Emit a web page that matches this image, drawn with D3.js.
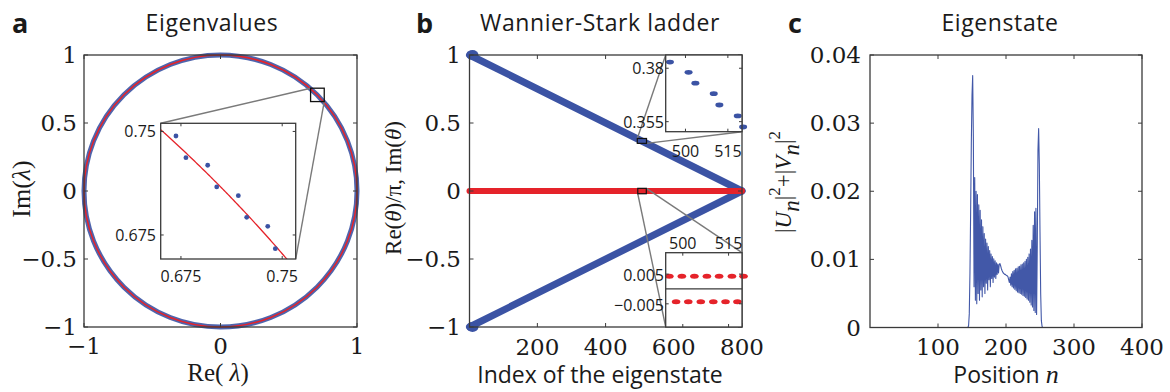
<!DOCTYPE html>
<html><head><meta charset="utf-8">
<script src="https://cdn.jsdelivr.net/npm/d3@7"></script>
<style>
body{margin:0;background:#fff}
text{fill:#1a1a1a}
</style></head><body>
<svg id="chart" width="1170" height="392" xmlns="http://www.w3.org/2000/svg"></svg>
<script>
// ---------------- DATA ----------------
const panelLetters = ["a", "b", "c"];
const panelTitles = ["Eigenvalues", "Wannier-Stark ladder", "Eigenstate"];

// panel a : eigenvalues on the unit circle
const circleRadius = [1];
const circleTicksX = [-1, 0, 1];
const circleTicksY = [-1, -0.5, 0, 0.5, 1];
const insetARe = [0.6713, 0.6787, 0.6948, 0.7015, 0.7175, 0.7237, 0.7393, 0.7449];
const insetAIm = [0.7467, 0.7310, 0.7255, 0.7098, 0.7035, 0.6878, 0.6813, 0.6651];
const insetADomainX = [0.66, 0.76];
const insetADomainY = [0.6576, 0.7559];
const insetATicks = [0.675, 0.75];

// panel b : Wannier-Stark ladder
const ladderIndex = [1, 800];
const ladderReUpper = [1, 0];
const ladderReLower = [-1, 0];
const ladderIm = [0, 0];
const ladderTicksX = [200, 400, 600, 800];
const ladderTicksY = [-1, -0.5, 0, 0.5, 1];
const insetB1Index = [494.5, 501.1, 503.5, 510.0, 512.0, 518.5, 520.4];
const insetB1Re = [0.3829, 0.3781, 0.3730, 0.3681, 0.3628, 0.3577, 0.3525];
const insetB1DomainX = [493, 520];
const insetB1DomainY = [0.3503, 0.3862];
const insetB1TicksX = [500, 515];
const insetB1TicksY = [0.355, 0.38];
const insetB2IndexUp = [495.6, 499.7, 503.8, 507.9, 511.9, 516.1, 519.9];
const insetB2ImUp = [0.0043, 0.0043, 0.0043, 0.0043, 0.0043, 0.0043, 0.0043];
const insetB2IndexDn = [497.8, 501.8, 505.9, 510.0, 514.0, 517.9];
const insetB2ImDn = [-0.0043, -0.0043, -0.0043, -0.0043, -0.0043, -0.0043];
const insetB2DomainX = [494.4, 519.4];
const insetB2DomainY = [-0.0128, 0.0122];
const insetB2TicksX = [500, 515];
const insetB2TicksY = [-0.005, 0.005];

// panel c : eigenstate profile
const stateTicksX = [100, 200, 300, 400];
const stateTicksY = [0, 0.01, 0.02, 0.03, 0.04];
const statePos = [1].concat(d3.range(140, 261)).concat([400]);
const stateVal = [0,
  0, 0, 0, 0, 0,
  0.0003, 0.002, 0.008, 0.017, 0.027, 0.034, 0.037, 0.028, 0.006,
  0.022, 0.004, 0.020, 0.0035, 0.0195, 0.005, 0.018, 0.004, 0.0172, 0.0055,
  0.0158, 0.0045, 0.0148, 0.006, 0.0138, 0.005, 0.0130, 0.0065, 0.0124, 0.0055,
  0.0119, 0.007, 0.0113, 0.006, 0.0108, 0.0072, 0.0104, 0.0066, 0.0101, 0.0074,
  0.0098, 0.0072, 0.0095, 0.0078, 0.0093, 0.0080, 0.0092,
  0.0094, 0.0091, 0.0087, 0.0084, 0.0082, 0.0080, 0.0079, 0.0078, 0.0078, 0.0077,
  0.0076, 0.0076, 0.0074,
  0.0070, 0.0066, 0.0074, 0.0062, 0.0079, 0.0060, 0.0082, 0.0058, 0.0084, 0.0056,
  0.0086, 0.0054, 0.0087, 0.0052, 0.0089, 0.0051, 0.0090, 0.0050, 0.0092, 0.0049,
  0.0093, 0.0047, 0.0095, 0.0046, 0.0097, 0.0044, 0.0100, 0.0042, 0.0103, 0.0040,
  0.0108, 0.0037, 0.0115, 0.0033, 0.0128, 0.0030, 0.0150, 0.0025, 0.0170, 0.0022,
  0.0175, 0.0019,
  0.0120, 0.0260, 0.0292, 0.0240, 0.0140, 0.0050, 0.0010, 0.0002,
  0, 0, 0, 0, 0, 0, 0,
  0];

// ---------------- STYLE ----------------
const BLUE = "#3b53a4", RED = "#e5232a", AXIS = "#3a3a3a", LINK = "#7a7a7a";
const SERIF = "'Liberation Serif','Times New Roman',serif";
const NUM = "'DejaVu Serif',serif";
const SANS = "'Open Sans','Noto Sans',sans-serif";
const fmt = v => d3.format("")(v).replace("-", "\u2212");

const svg = d3.select("#chart");

function frame(g, sx, sy, tx, ty, tl) {
  const [x0, x1] = sx.range(), [y0, y1] = sy.range();
  const L = Math.min(x0, x1), R = Math.max(x0, x1), T = Math.min(y0, y1), B = Math.max(y0, y1);
  g.append("rect").attr("x", L).attr("y", T).attr("width", R - L).attr("height", B - T)
    .attr("fill", "none").attr("stroke", AXIS).attr("stroke-width", 1.3);
  tx.forEach(v => {
    const x = sx(v);
    g.append("line").attr("x1", x).attr("x2", x).attr("y1", B).attr("y2", B - tl).attr("stroke", AXIS);
    g.append("line").attr("x1", x).attr("x2", x).attr("y1", T).attr("y2", T + tl).attr("stroke", AXIS);
  });
  ty.forEach(v => {
    const y = sy(v);
    g.append("line").attr("x1", L).attr("x2", L + tl).attr("y1", y).attr("y2", y).attr("stroke", AXIS);
    g.append("line").attr("x1", R).attr("x2", R - tl).attr("y1", y).attr("y2", y).attr("stroke", AXIS);
  });
}
function xLabels(g, sx, ticks, y, font, size) {
  ticks.forEach(v => g.append("text").attr("x", sx(v)).attr("y", y).attr("text-anchor", "middle")
    .attr("font-family", font).attr("font-size", size).text(fmt(v)));
}
function yLabels(g, sy, ticks, x, font, size, dy) {
  ticks.forEach(v => g.append("text").attr("x", x).attr("y", sy(v) + dy).attr("text-anchor", "end")
    .attr("font-family", font).attr("font-size", size).text(fmt(v)));
}
function header(i, lx, tx) {
  svg.append("text").attr("x", lx).attr("y", 33).attr("font-family", SANS).attr("font-weight", "bold")
    .attr("font-size", 27).text(panelLetters[i]);
  svg.append("text").attr("x", tx).attr("y", 31).attr("text-anchor", "middle").attr("font-family", SANS)
    .attr("font-size", 23).attr("letter-spacing", 0.6).text(panelTitles[i]);
}

// ---------------- PANEL A ----------------
{
  const g = svg.append("g");
  const x = d3.scaleLinear().domain([-1, 1]).range([84, 357]);
  const y = d3.scaleLinear().domain([-1, 1]).range([327, 55]);
  header(0, 12, 212);
  g.selectAll("ellipse.ring").data(circleRadius).join("ellipse")
    .attr("cx", x(0)).attr("cy", y(0))
    .attr("rx", d => x(d) - x(0)).attr("ry", d => y(0) - y(d))
    .attr("fill", "none").attr("stroke", BLUE).attr("stroke-width", 5).attr("stroke-opacity", 0.9);
  g.selectAll("ellipse.red").data(circleRadius).join("ellipse")
    .attr("cx", x(0)).attr("cy", y(0))
    .attr("rx", d => x(d) - x(0)).attr("ry", d => y(0) - y(d))
    .attr("fill", "none").attr("stroke", RED).attr("stroke-width", 1.5);
  frame(g, x, y, circleTicksX, circleTicksY, 4);
  xLabels(g, x, circleTicksX, 354, NUM, 23);
  yLabels(g, y, circleTicksY, 77, NUM, 23, 8);
  g.append("text").attr("x", 218).attr("y", 381).attr("text-anchor", "middle")
    .attr("font-family", SERIF).attr("font-size", 25)
    .html("Re( <tspan font-style='italic'>\u03bb</tspan>)");
  g.append("text").attr("transform", "translate(30,189) rotate(-90)").attr("text-anchor", "middle")
    .attr("font-family", SERIF).attr("font-size", 26)
    .html("Im(<tspan font-style='italic'>\u03bb</tspan>)");

  // inset
  const ix = d3.scaleLinear().domain(insetADomainX).range([160.7, 295.7]);
  const iy = d3.scaleLinear().domain(insetADomainY).range([259, 123.3]);
  const bx0 = x(insetADomainX[0]), bx1 = x(insetADomainX[1]);
  const by0 = y(insetADomainY[1]), by1 = y(insetADomainY[0]);
  g.append("line").attr("x1", bx0).attr("y1", by0).attr("x2", ix.range()[0]).attr("y2", iy.range()[1])
    .attr("stroke", LINK).attr("stroke-width", 1.4);
  g.append("line").attr("x1", bx1).attr("y1", by1).attr("x2", ix.range()[1]).attr("y2", iy.range()[0])
    .attr("stroke", LINK).attr("stroke-width", 1.4);
  g.append("rect").attr("x", bx0).attr("y", by0).attr("width", bx1 - bx0).attr("height", by1 - by0)
    .attr("fill", "none").attr("stroke", "#111").attr("stroke-width", 1.3);
  g.append("rect").attr("x", 160.7).attr("y", 123.3).attr("width", 135).attr("height", 135.7).attr("fill", "#fff");
  g.append("clipPath").attr("id", "clipA").append("rect")
    .attr("x", 160.7).attr("y", 123.3).attr("width", 135).attr("height", 135.7);
  const arcX = d3.range(insetADomainX[0], insetADomainX[1] + 0.0005, 0.001);
  g.append("path").attr("clip-path", "url(#clipA)")
    .attr("d", d3.line().x(d => ix(d)).y(d => iy(Math.sqrt(circleRadius[0] ** 2 - d * d)))(arcX))
    .attr("fill", "none").attr("stroke", RED).attr("stroke-width", 1.3);
  g.selectAll("circle.ia").data(insetARe).join("circle")
    .attr("cx", d => ix(d)).attr("cy", (d, i) => iy(insetAIm[i])).attr("r", 2.4).attr("fill", BLUE);
  frame(g, ix, iy, insetATicks, insetATicks, 3);
  xLabels(g, ix, insetATicks, 282, SANS, 16);
  yLabels(g, iy, insetATicks, 156, SANS, 16, 6);
}

// ---------------- PANEL B ----------------
{
  const g = svg.append("g");
  const x = d3.scaleLinear().domain([1, 800]).range([469.5, 742]);
  const y = d3.scaleLinear().domain([-1, 1]).range([327, 55]);
  header(1, 416, 600);
  const line = d3.line().x(d => x(d[0])).y(d => y(d[1]));
  [ladderReUpper, ladderReLower].forEach(vals => {
    g.append("path").attr("d", line(ladderIndex.map((d, i) => [d, vals[i]])))
      .attr("stroke", BLUE).attr("stroke-width", 7).attr("stroke-linecap", "round").attr("fill", "none");
    g.append("ellipse").attr("cx", x(ladderIndex[0]) + 3).attr("cy", y(vals[0])).attr("rx", 6).attr("ry", 5).attr("fill", BLUE);
  });
  g.append("path").attr("d", line(ladderIndex.map((d, i) => [d, ladderIm[i]])))
    .attr("stroke", RED).attr("stroke-width", 6).attr("stroke-linecap", "round").attr("fill", "none");
  frame(g, x, y, ladderTicksX, ladderTicksY, 4);
  xLabels(g, x, ladderTicksX, 355, NUM, 23);
  yLabels(g, y, ladderTicksY, 461, NUM, 23, 8);
  g.append("text").attr("x", 600).attr("y", 383).attr("text-anchor", "middle")
    .attr("font-family", SANS).attr("font-size", 23).text("Index of the eigenstate");
  g.append("text").attr("transform", "translate(401,188) rotate(-90)").attr("text-anchor", "middle")
    .attr("font-family", SERIF).attr("font-size", 23)
    .html("Re(<tspan font-style='italic'>\u03b8</tspan>)/\u03c0, Im(<tspan font-style='italic'>\u03b8</tspan>)");

  // upper inset
  const ax = d3.scaleLinear().domain(insetB1DomainX).range([665.7, 742]);
  const ay = d3.scaleLinear().domain(insetB1DomainY).range([131.7, 55]);
  const b1x0 = x(insetB1DomainX[0]), b1x1 = x(insetB1DomainX[1]);
  const b1y0 = y(insetB1DomainY[1]), b1y1 = y(insetB1DomainY[0]);
  g.append("line").attr("x1", b1x0).attr("y1", b1y0).attr("x2", 665.7).attr("y2", 55)
    .attr("stroke", LINK).attr("stroke-width", 1.4);
  g.append("line").attr("x1", b1x1).attr("y1", b1y1).attr("x2", 742).attr("y2", 131.7)
    .attr("stroke", LINK).attr("stroke-width", 1.4);
  g.append("rect").attr("x", b1x0).attr("y", b1y0).attr("width", b1x1 - b1x0).attr("height", b1y1 - b1y0)
    .attr("fill", "none").attr("stroke", "#111").attr("stroke-width", 1.2);
  g.append("rect").attr("x", 665.7).attr("y", 55).attr("width", 76.3).attr("height", 76.7).attr("fill", "#fff");
  g.selectAll("ellipse.b1").data(insetB1Index).join("ellipse")
    .attr("cx", d => ax(d)).attr("cy", (d, i) => ay(insetB1Re[i])).attr("rx", 4).attr("ry", 2.4).attr("fill", BLUE);
  frame(g, ax, ay, insetB1TicksX, insetB1TicksY, 3);
  xLabels(g, ax, insetB1TicksX, 157, SANS, 16);
  yLabels(g, ay, insetB1TicksY, 664, SANS, 16, 6);

  // lower inset
  const cx = d3.scaleLinear().domain(insetB2DomainX).range([665.7, 742]);
  const cy = d3.scaleLinear().domain(insetB2DomainY).range([327, 252.7]);
  const b2x0 = x(insetB2DomainX[0]), b2x1 = x(insetB2DomainX[1]);
  const b2y0 = y(insetB2DomainY[1]) - 1, b2y1 = y(insetB2DomainY[0]) + 1;
  g.append("line").attr("x1", b2x0).attr("y1", b2y1).attr("x2", 665.7).attr("y2", 327)
    .attr("stroke", LINK).attr("stroke-width", 1.4);
  g.append("line").attr("x1", b2x1).attr("y1", b2y0).attr("x2", 742).attr("y2", 252.7)
    .attr("stroke", LINK).attr("stroke-width", 1.4);
  g.append("rect").attr("x", b2x0).attr("y", b2y0).attr("width", b2x1 - b2x0).attr("height", b2y1 - b2y0)
    .attr("fill", "none").attr("stroke", "#111").attr("stroke-width", 1.2);
  g.append("rect").attr("x", 665.7).attr("y", 252.7).attr("width", 76.3).attr("height", 74.3).attr("fill", "#fff");
  g.append("line").attr("x1", 665.7).attr("x2", 742).attr("y1", cy(0)).attr("y2", cy(0))
    .attr("stroke", AXIS).attr("stroke-width", 1.2);
  g.selectAll("ellipse.b2u").data(insetB2IndexUp).join("ellipse")
    .attr("cx", d => cx(d)).attr("cy", (d, i) => cy(insetB2ImUp[i])).attr("rx", 4.3).attr("ry", 2.5).attr("fill", RED);
  g.selectAll("ellipse.b2d").data(insetB2IndexDn).join("ellipse")
    .attr("cx", d => cx(d)).attr("cy", (d, i) => cy(insetB2ImDn[i])).attr("rx", 4.3).attr("ry", 2.5).attr("fill", RED);
  frame(g, cx, cy, insetB2TicksX, insetB2TicksY, 3);
  xLabels(g, cx, insetB2TicksX, 249, SANS, 16);
  yLabels(g, cy, insetB2TicksY, 664, SANS, 16, 7);
}

// ---------------- PANEL C ----------------
{
  const g = svg.append("g");
  const x = d3.scaleLinear().domain([0, 400]).range([870, 1142]);
  const y = d3.scaleLinear().domain([0, 0.04]).range([327.5, 55]);
  header(2, 788, 1000);
  g.append("path").attr("d", d3.line().x((d, i) => x(statePos[i])).y(d => y(d))(stateVal))
    .attr("fill", "none").attr("stroke", "#4258a8").attr("stroke-width", 1.1).attr("stroke-linejoin", "round");
  frame(g, x, y, stateTicksX, stateTicksY, 4);
  xLabels(g, x, stateTicksX, 355, NUM, 23);
  yLabels(g, y, stateTicksY, 861, NUM, 23, 8);
  g.append("text").attr("x", 1006).attr("y", 383).attr("text-anchor", "middle")
    .attr("font-family", SANS).attr("font-size", 23)
    .html("Position <tspan font-family=\"'Liberation Serif',serif\" font-style='italic' font-size='26'>n</tspan>");
  g.append("text").attr("transform", "translate(791,182) rotate(-90)").attr("text-anchor", "middle")
    .attr("font-family", SERIF).attr("font-size", 23)
    .html("|<tspan font-style='italic'>U</tspan><tspan font-style='italic' dy='8'>n</tspan><tspan dy='-8'>|</tspan><tspan dy='-11' font-size='17'>2</tspan><tspan dy='11'>+|</tspan><tspan font-style='italic'>V</tspan><tspan font-style='italic' dy='8'>n</tspan><tspan dy='-8'>|</tspan><tspan dy='-11' font-size='17'>2</tspan>");
}
</script>
</body></html>
